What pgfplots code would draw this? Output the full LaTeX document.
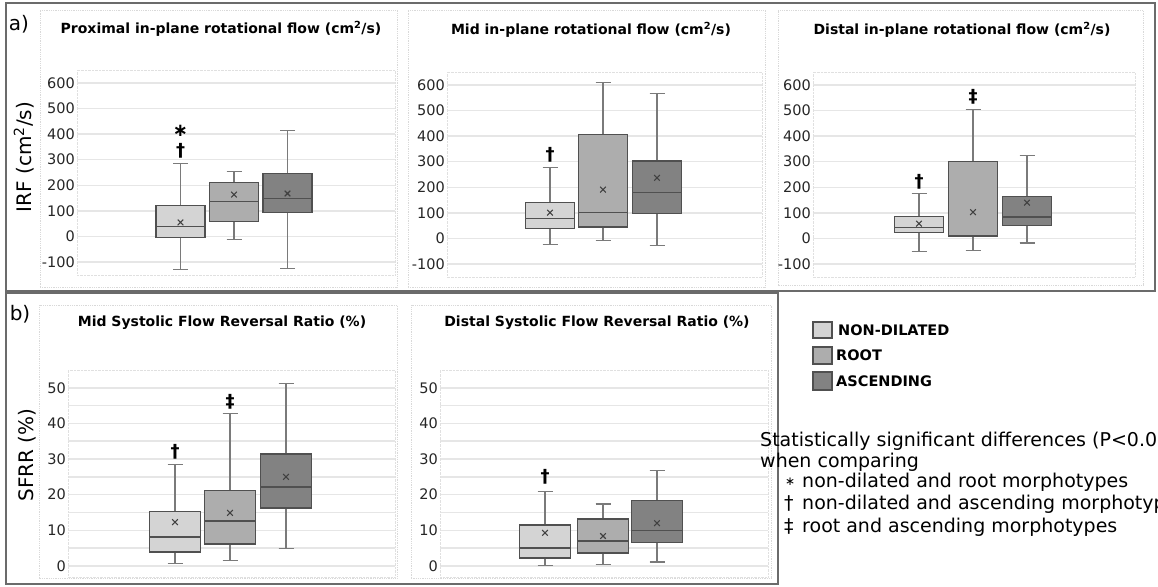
\documentclass[border=0pt]{standalone}
\usepackage{fontspec}
\setmainfont{DejaVu Sans}
\usepackage{pgfplots}
\pgfplotsset{compat=1.18}
\usepgfplotslibrary{statistics}
\definecolor{cA}{HTML}{D4D4D4}
\definecolor{cB}{HTML}{ADADAD}
\definecolor{cC}{HTML}{828282}
\definecolor{bord}{HTML}{505050}
\definecolor{whisk}{HTML}{7A7A7A}
\definecolor{gridc}{HTML}{E6E6E6}
\definecolor{frame}{HTML}{6B6B6B}
\newcommand{\bx}[8]{%
  \addplot[draw=bord, line width=1.3pt, fill=#1,
    boxplot/draw direction=y,
    boxplot prepared={draw position=#2, lower whisker=#3, lower quartile=#4,
      median=#5, upper quartile=#6, upper whisker=#7,
      box extend=#8, whisker extend=15},
    boxplot/every whisker/.style={draw=whisk, line width=1.2pt},
    boxplot/every median/.style={draw=bord, line width=1.5pt}] coordinates {};}
\newcommand{\mn}[1]{%
  \addplot[only marks, mark=x, mark size=4pt, mark options={line width=1.1pt, draw=black!75}] coordinates {#1};}
\pgfplotsset{
  panel/.style={scale only axis, anchor=south west, xmin=0,
    axis line style={draw=black!12, densely dotted},
    xtick=\empty, major tick length=0pt, minor tick length=0pt,
    ymajorgrids, grid style={line width=1.6pt, draw=gridc},
    minor grid style={line width=1.6pt, draw=gridc},
    yticklabel style={font=\fontsize{14.5}{15}\selectfont, text=black!85, inner sep=2pt},
    /pgf/number format/assume math mode=true, clip=false},
  pa/.style={panel, height=205pt, ymin=-150, ymax=650, ytick={-100,0,...,600}},
  pb/.style={panel, height=207pt, ymin=-3.1, ymax=55, ytick={0,10,...,50},
    minor ytick={5,15,...,45}, yminorgrids},
}
\newcommand{\sym}{\bfseries\fontsize{18}{18}\selectfont}
\begin{document}
\begin{tikzpicture}[x=1pt,y=1pt]
% outer frames
\draw[frame, line width=1.8pt] (6,295) rectangle (1155,583);
\draw[frame, line width=1.8pt] (6,2) rectangle (778,293);
% panel frames
\draw[black!15, densely dotted, line width=0.8pt] (40,299) rectangle (397,576);
\draw[black!15, densely dotted, line width=0.8pt] (408,299) rectangle (765,576);
\draw[black!15, densely dotted, line width=0.8pt] (778,301) rectangle (1143,576);
\draw[black!15, densely dotted, line width=0.8pt] (39,8) rectangle (397,281);
\draw[black!15, densely dotted, line width=0.8pt] (411,8) rectangle (771,281);
% labels
\node[font=\fontsize{20}{20}\selectfont, inner sep=0] at (19,562) {a)};
\node[font=\fontsize{20}{20}\selectfont, inner sep=0] at (20,272) {b)};
\node[font=\fontsize{20}{20}\selectfont, rotate=90, inner sep=0] at (24,429) {IRF (cm\textsuperscript{2}/s)};
\node[font=\fontsize{20}{20}\selectfont, rotate=90, inner sep=0] at (27,131) {SFRR (\%)};
% titles
\node[font=\bfseries\fontsize{14}{14}\selectfont, anchor=base, inner sep=0] at (221,552) {Proximal in-plane rotational flow (cm\textsuperscript{2}/s)};
\node[font=\bfseries\fontsize{14}{14}\selectfont, anchor=base, inner sep=0] at (591,551) {Mid in-plane rotational flow (cm\textsuperscript{2}/s)};
\node[font=\bfseries\fontsize{14}{14}\selectfont, anchor=base, inner sep=0] at (962,551) {Distal in-plane rotational flow (cm\textsuperscript{2}/s)};
\node[font=\bfseries\fontsize{14}{14}\selectfont, anchor=base, inner sep=0] at (222,259) {Mid Systolic Flow Reversal Ratio (\%)};
\node[font=\bfseries\fontsize{14}{14}\selectfont, anchor=base, inner sep=0] at (597,259) {Distal Systolic Flow Reversal Ratio (\%)};

% a1
\begin{axis}[pa, at={(77pt,311pt)}, width=318pt, xmax=318]
\bx{cA}{103.5}{-130}{-3}{40}{120}{284}{49}
\bx{cB}{157}{-10}{60}{136}{210}{253}{49}
\bx{cC}{210.5}{-124}{93}{148}{245}{413}{49}
\mn{(103.5,55)}\mn{(157,164)}\mn{(210.5,168)}
\node[font=\sym, inner sep=0] at (axis cs:103.5,335) {†};
\node[font=\sym, inner sep=0] at (axis cs:103.5,413) {∗};
\end{axis}
% a2
\begin{axis}[pa, at={(447pt,309pt)}, width=315pt, xmax=315]
\bx{cA}{103}{-23}{39}{78}{140}{277}{49}
\bx{cB}{156}{-7}{45}{101}{405}{610}{49}
\bx{cC}{210}{-27}{97}{179}{303}{567}{49}
\mn{(103,101)}\mn{(156,191)}\mn{(210,237)}
\node[font=\sym, inner sep=0] at (axis cs:103,327) {†};
\end{axis}
% a3
\begin{axis}[pa, at={(813pt,309pt)}, width=322pt, xmax=322]
\bx{cA}{106}{-50}{25}{43}{86}{175}{49}
\bx{cB}{160}{-47}{10}{12}{300}{505}{49}
\bx{cC}{214}{-17}{50}{85}{163}{323}{49}
\mn{(106,58)}\mn{(160,103)}\mn{(214,140)}
\node[font=\sym, inner sep=0] at (axis cs:106,222) {†};
\node[font=\sym, inner sep=0] at (axis cs:160,553) {‡};
\end{axis}
% b1
\begin{axis}[pb, at={(68pt,9pt)}, width=327pt, xmax=327]
\bx{cA}{107}{0.6}{3.9}{8.1}{15.2}{28.4}{51}
\bx{cB}{162}{1.5}{6.2}{12.6}{21.1}{42.7}{51}
\bx{cC}{218}{4.8}{16.3}{22.2}{31.4}{51.1}{51}
\mn{(107,12.3)}\mn{(162,14.9)}\mn{(218,25)}
\node[font=\sym, inner sep=0] at (axis cs:107,32) {†};
\node[font=\sym, inner sep=0] at (axis cs:162,46) {‡};
\end{axis}
% b2
\begin{axis}[pb, at={(440pt,9pt)}, width=328pt, xmax=328]
\bx{cA}{105}{0.2}{2.2}{5}{11.5}{21}{51}
\bx{cB}{163}{0.5}{3.6}{7}{13.2}{17.4}{51}
\bx{cC}{217}{1.1}{6.5}{10}{18.3}{26.7}{51}
\mn{(105,9.3)}\mn{(163,8.4)}\mn{(217,12)}
\node[font=\sym, inner sep=0] at (axis cs:105,25) {†};
\end{axis}

% legend
\draw[bord, line width=1.2pt, fill=cA] (813,248) rectangle (832,264);
\draw[bord, line width=1.2pt, fill=cB] (813,222) rectangle (832,239);
\draw[bord, line width=1.2pt, fill=cC] (813,196) rectangle (832,214);
\node[font=\bfseries\fontsize{14.5}{15}\selectfont, anchor=west, inner sep=0] at (838,256) {NON-DILATED};
\node[font=\bfseries\fontsize{14.5}{15}\selectfont, anchor=west, inner sep=0] at (836,230.5) {ROOT};
\node[font=\bfseries\fontsize{14.5}{15}\selectfont, anchor=west, inner sep=0] at (836,205) {ASCENDING};
% statistics note
\begin{scope}[every node/.style={font=\fontsize{19}{19}\selectfont, anchor=base west, inner sep=0}]
\node at (760,139) {Statistically significant differences (P<0.05)};
\node at (760,118) {when comparing};
\node[font=\fontsize{12}{12}\selectfont] at (785,100) {∗};
\node at (802,98) {non-dilated and root morphotypes};
\node at (784,76) {†};
\node at (802,76) {non-dilated and ascending morphotypes};
\node at (784,54) {‡};
\node at (802,54) {root and ascending morphotypes};
\end{scope}
\pgfresetboundingbox
\path[use as bounding box] (0,0) rectangle (1158,586);
\end{tikzpicture}
\end{document}
